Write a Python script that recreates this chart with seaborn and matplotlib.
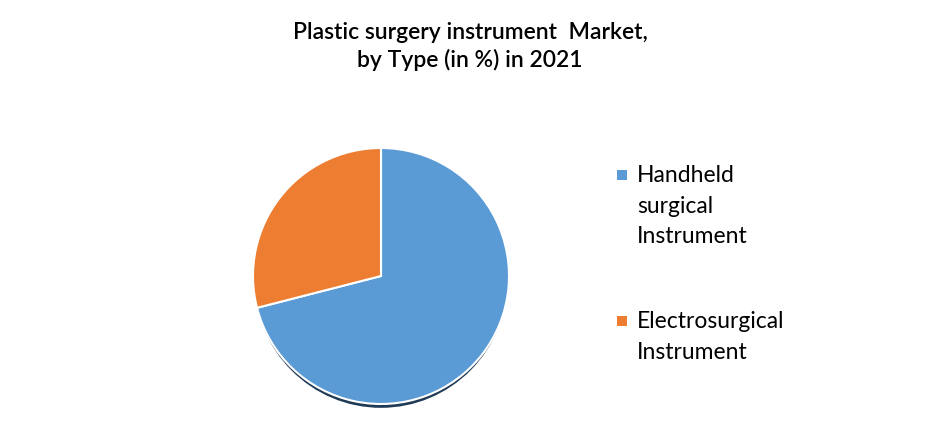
import matplotlib
matplotlib.use("Agg")
import matplotlib.pyplot as plt
from matplotlib.patches import Ellipse, Rectangle
import seaborn as sns

categories = ["Handheld\nsurgical\nInstrument", "Electrosurgical\nInstrument"]
shares = [71, 29]
colors = ["#5B9BD5", "#ED7D31"]
title = "Plastic surgery instrument  Market,\nby Type (in %) in 2021"

sns.set_theme(style="white")
plt.rcParams["font.family"] = ["Lato", "DejaVu Sans"]

W, H = 940, 447
fig = plt.figure(figsize=(W / 100, H / 100), dpi=100)
fig.patch.set_facecolor("white")

cx, cy, r = 381 / W, (H - 276) / H, 128
ax = fig.add_axes([cx - r / W, cy - r / H, 2 * r / W, 2 * r / H])

# soft shadow under the pie
ax.add_patch(Ellipse((0.0, -0.03), 1.98, 2.0, facecolor="#1F3A55",
                     edgecolor="none", zorder=0, clip_on=False))

wedges, _ = ax.pie(shares, colors=colors, startangle=90, counterclock=False,
                   radius=1.0, center=(0, 0),
                   wedgeprops=dict(edgecolor="white", linewidth=1.5))
for w in wedges:
    w.set_zorder(2)
    w.set_clip_on(False)
ax.set_xlim(-1, 1)
ax.set_ylim(-1, 1)
ax.set_aspect("equal")
ax.axis("off")

fig.text(0.5, 1 - 22 / H, title, ha="center", va="top", fontsize=16.5,
         fontweight="semibold", linespacing=1.3, color="black")

# legend: square marker + multi-line label, first line aligned with marker
leg_x = 617 / W
text_x = 637 / W
first_line_y = [175, 321]
for lab, col, yy in zip(categories, colors, first_line_y):
    sq = 10
    fig.add_artist(Rectangle((leg_x, 1 - (yy + sq / 2) / H), sq / W, sq / H,
                             transform=fig.transFigure, facecolor=col,
                             edgecolor="none"))
    fig.text(text_x, 1 - (yy - 10) / H, lab, ha="left", va="top",
             fontsize=16.5, linespacing=1.56, color="black")

fig.savefig("out.png", dpi=100, facecolor="white")
